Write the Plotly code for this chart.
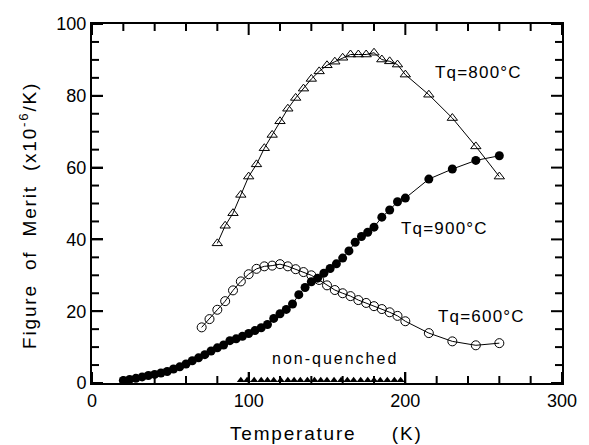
import plotly.graph_objects as go

# ---- data ----
t800_x = [80, 85, 90, 95, 100, 105, 110, 115, 120, 125, 130, 135, 140, 145, 150, 155, 160, 165,
          170, 175, 180, 185, 190, 195, 200, 215, 230, 245, 260]
t800_y = [38.9, 43.8, 47.3, 52.4, 57.5, 60.9, 65.4, 69.1, 72.9, 76.4, 79.4, 82.0, 84.7, 86.8,
          88.5, 89.5, 90.6, 91.5, 91.5, 91.5, 92.0, 90.1, 89.6, 88.7, 85.9, 80.3, 73.8, 65.9, 57.5]

t900_x = [20, 24, 28, 32, 36, 40, 44, 48, 52, 56, 60, 64, 68, 72, 76, 80, 84, 88, 92, 96, 100,
          104, 108, 112, 116, 120, 124, 128, 132, 136, 140, 144, 148, 152, 156, 160, 164, 168,
          172, 176, 180, 185, 190, 195, 200, 215, 230, 245, 260]
t900_y = [0.7, 1.0, 1.3, 1.7, 2.1, 2.4, 2.8, 3.2, 3.9, 4.5, 5.3, 6.2, 7.0, 7.9, 8.9, 9.8, 10.6,
          11.8, 12.3, 13.0, 13.8, 14.6, 15.4, 16.3, 18.0, 19.3, 20.5, 22.0, 24.6, 26.6, 28.2,
          29.2, 30.6, 31.9, 33.2, 34.8, 36.8, 39.2, 40.8, 42.0, 43.4, 46.2, 48.2, 50.5, 51.5,
          56.8, 59.6, 62.0, 63.3]

t600_x = [70, 75, 80, 85, 90, 95, 100, 105, 110, 115, 120, 125, 130, 135, 140, 145, 150, 155,
          160, 165, 170, 175, 180, 185, 190, 195, 200, 215, 230, 245, 260]
t600_y = [15.5, 17.8, 20.4, 22.8, 25.8, 28.3, 30.3, 31.8, 32.5, 32.7, 33.1, 32.5, 31.7, 30.9,
          30.0, 28.7, 27.2, 25.9, 25.0, 24.2, 23.1, 22.3, 21.4, 20.6, 19.7, 18.7, 17.2, 13.9,
          11.6, 10.5, 11.1]

nq_x = [95, 99, 103.5, 108, 112, 116, 120.5, 125, 129, 133, 137.5, 142, 146, 150, 154.5, 159,
        163, 167, 171.5, 176, 180, 184, 188.5, 193, 197]
nq_y = [0.8] * len(nq_x)

x_range = [0, 300]
y_range = [0, 100]
x_major = [0, 100, 200, 300]
y_major = [0, 20, 40, 60, 80, 100]
x_minor = [20, 40, 60, 80, 120, 140, 160, 180, 220, 240, 260, 280]
y_minor = [5, 10, 15, 25, 30, 35, 45, 50, 55, 65, 70, 75, 85, 90, 95]

FONT = "Liberation Sans, Arial, sans-serif"
MAJOR_LEN = 11
MINOR_LEN = 7


def spaced(txt, sp):
    return f'<span style="letter-spacing:{sp}px">{txt}</span>'


fig = go.Figure()

fig.add_trace(go.Scatter(x=t800_x, y=t800_y, mode="lines+markers",
                         line=dict(color="black", width=1),
                         marker=dict(symbol="triangle-up-open", size=9, color="black",
                                     line=dict(width=1, color="black")),
                         name="Tq=800°C"))
fig.add_trace(go.Scatter(x=t600_x, y=t600_y, mode="lines+markers",
                         line=dict(color="black", width=1),
                         marker=dict(symbol="circle-open", size=9, color="black",
                                     line=dict(width=1, color="black")),
                         name="Tq=600°C"))
fig.add_trace(go.Scatter(x=t900_x, y=t900_y, mode="lines+markers",
                         line=dict(color="black", width=1),
                         marker=dict(symbol="circle", size=9, color="black"),
                         cliponaxis=False, name="Tq=900°C"))
fig.add_trace(go.Scatter(x=nq_x, y=nq_y, mode="markers",
                         marker=dict(symbol="triangle-up", size=7, color="black"),
                         cliponaxis=False, name="non-quenched"))

ann_font = dict(family=FONT, size=17, color="black")
fig.add_annotation(x=246.5, y=86.4, text=spaced("Tq=800°C", 1.2), showarrow=False, font=ann_font)
fig.add_annotation(x=225, y=43.1, text=spaced("Tq=900°C", 1.2), showarrow=False, font=ann_font)
fig.add_annotation(x=248.5, y=18.6, text=spaced("Tq=600°C", 1.2), showarrow=False, font=ann_font)
fig.add_annotation(x=155, y=6.8, text=spaced("non-quenched", 2), showarrow=False,
                   font=dict(family=FONT, size=16, color="black"))

# axis titles
fig.add_annotation(xref="paper", yref="paper", x=0.499, y=-0.141,
                   text=spaced("Temperature\u00a0\u00a0\u00a0\u00a0\u00a0(K)", 1.8), showarrow=False,
                   font=dict(family=FONT, size=19, color="black"),
                   xanchor="center", yanchor="middle")
fig.add_annotation(xref="paper", yref="paper", x=-0.135, y=0.467,
                   text=spaced("Figure\u00a0\u00a0of\u00a0\u00a0Merit\u00a0\u00a0(x10<sup>-6</sup>/K)", 1.8),
                   showarrow=False, textangle=-90,
                   font=dict(family=FONT, size=19, color="black"),
                   xanchor="center", yanchor="middle")

# inward tick marks on all four sides, placed through the axes' data scales
tick_line = dict(color="black", width=2)
for vals, ln in ((x_major, MAJOR_LEN), (x_minor, MINOR_LEN)):
    for v in vals:
        for anchor, sign in ((y_range[0], 1), (y_range[1], -1)):
            fig.add_shape(type="line", xref="x", yref="y", x0=v, x1=v,
                          ysizemode="pixel", yanchor=anchor, y0=0, y1=sign * ln,
                          line=tick_line, layer="above")
for vals, ln in ((y_major, MAJOR_LEN), (y_minor, MINOR_LEN)):
    for v in vals:
        for anchor, sign in ((x_range[0], 1), (x_range[1], -1)):
            fig.add_shape(type="line", xref="x", yref="y", y0=v, y1=v,
                          xsizemode="pixel", xanchor=anchor, x0=0, x1=sign * ln,
                          line=tick_line, layer="above")

base = dict(showgrid=False, zeroline=False, showline=True, mirror=True,
            linecolor="black", linewidth=2, ticks="inside", ticklen=MAJOR_LEN, tickwidth=2,
            tickcolor="black", tick0=0, tickfont=dict(family=FONT, size=18, color="black"))

fig.update_layout(
    xaxis=dict(range=x_range, dtick=100, **base),
    yaxis=dict(range=y_range, dtick=20, **base),
)

fig.update_layout(width=589, height=445, showlegend=False,
                  plot_bgcolor="rgba(0,0,0,0)", paper_bgcolor="white",
                  margin=dict(l=92, r=22, t=24, b=62),
                  font=dict(family=FONT, color="black"))

fig.write_html("out.html", config={"displayModeBar": False},
               post_script="document.body.style.margin='0';document.body.style.overflow='hidden';")
